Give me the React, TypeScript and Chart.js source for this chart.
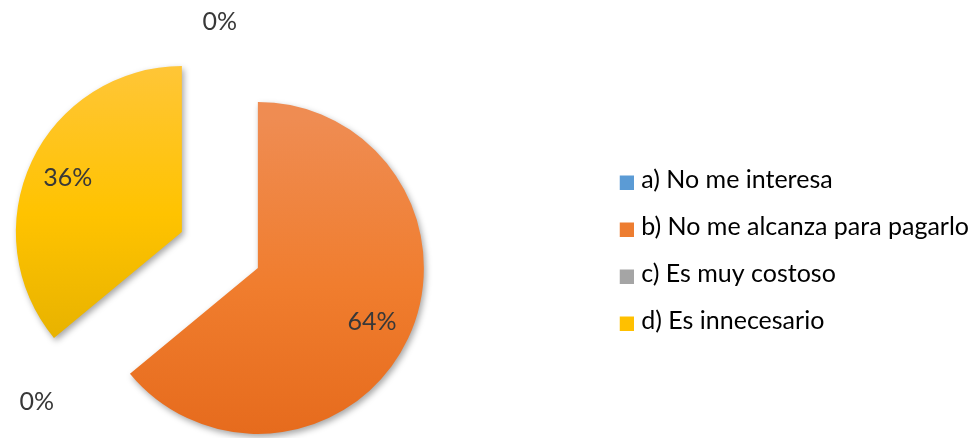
import React, { useEffect, useRef } from "react";
import { Chart, registerables } from "chart.js";

Chart.register(...registerables);

const categories = [
  "a) No me interesa",
  "b) No me alcanza para pagarlo",
  "c) Es muy costoso",
  "d) Es innecesario",
];
const values = [0, 64, 0, 36];
const legendColors = ["#5B9BD5", "#ED7D31", "#A5A5A5", "#FFC000"];
const gradientTop = ["#7FB0DE", "#EF8C52", "#B8B8B8", "#FFC63E"];
const gradientMid = ["#5B9BD5", "#F07D2E", "#A5A5A5", "#FFC300"];
const gradientBottom = ["#4A86BE", "#E5691B", "#909090", "#E0AD00"];
const sliceOffsets = [0, 168, 0, 168];

const RADIUS = 166;
const SHIFT = 153;
const EXTRA_RIGHT = 4;
const FONT = "Lato, 'Open Sans', sans-serif";

// Chart.js translates an exploded arc by offset/4 and enlarges it by offset/4 * fix
function sliceTranslation(offset: number) {
  return offset / 4;
}
function radiusGrowth(offset: number, circ: number) {
  const fix = 1 - Math.sin(Math.min(Math.PI, circ || 0));
  return (offset / 4) * fix;
}

function sliceGeom(chart: any, i: number) {
  const area = chart.chartArea;
  const cx = (area.left + area.right) / 2;
  const cy = (area.top + area.bottom) / 2;
  const total = values.reduce((a, b) => a + b, 0);
  let cum = 0;
  for (let k = 0; k < i; k++) cum += values[k];
  const start = -Math.PI / 2 + (2 * Math.PI * cum) / total;
  const circ = (2 * Math.PI * values[i]) / total;
  const mid = start + circ / 2;
  const t = sliceTranslation(sliceOffsets[i]);
  return { cx, cy, sx: cx + Math.cos(mid) * t, sy: cy + Math.sin(mid) * t, mid, circ };
}

// keep every exploded slice at the same visible radius and exact angles
const equalRadiusPlugin = {
  id: "equalRadius",
  afterDatasetUpdate(chart: any, args: any) {
    const meta = chart.getDatasetMeta(args.index);
    meta.data.forEach((el: any, i: number) => {
      const circ = el.circumference;
      if (!circ) return;
      const ro = radiusGrowth(sliceOffsets[i], circ);
      el.outerRadius = RADIUS - ro;
      const d = ro / (2 * Math.PI * RADIUS);
      el.startAngle -= d;
      el.endAngle += d;
    });
  },
};

const shadowPlugin = {
  id: "sliceShadow",
  beforeDatasetsDraw(chart: any) {
    const ctx = chart.ctx;
    ctx.save();
    ctx.shadowColor = "rgba(0,0,0,0.35)";
    ctx.shadowBlur = 6;
    ctx.shadowOffsetX = 2;
    ctx.shadowOffsetY = 3;
  },
  afterDatasetsDraw(chart: any) {
    chart.ctx.restore();
  },
};

const LABEL_SIZE = 25;
const labelPlugin = {
  id: "pctLabels",
  afterDraw(chart: any) {
    const ctx = chart.ctx;
    const meta = chart.getDatasetMeta(0);
    const total = values.reduce((a, b) => a + b, 0);
    ctx.save();
    ctx.font = `${LABEL_SIZE}px ${FONT}`;
    ctx.fillStyle = "#383838";
    ctx.textAlign = "center";
    ctx.textBaseline = "middle";
    meta.data.forEach((el: any, i: number) => {
      const { x, y, startAngle, endAngle } = el.getProps(["x", "y", "startAngle", "endAngle"], true);
      const mid = (startAngle + endAngle) / 2;
      const r = RADIUS;
      const pct = Math.round((values[i] / total) * 100) + "%";
      if (values[i] > 0) {
        const t = sliceTranslation(sliceOffsets[i]);
        const sx = x + Math.cos(mid) * t;
        const sy = y + Math.sin(mid) * t;
        ctx.fillText(pct, sx + Math.cos(mid) * r * 0.76, sy + Math.sin(mid) * r * 0.76);
      } else {
        const w = ctx.measureText(pct).width;
        const h = LABEL_SIZE * 0.8;
        const d =
          r * 1.313 + Math.abs(Math.cos(mid)) * (w / 2) + Math.abs(Math.sin(mid)) * (h / 2);
        ctx.fillText(pct, x + Math.cos(mid) * d, y + Math.sin(mid) * d);
      }
    });
    ctx.restore();
  },
};

function makeSwatch(color: string) {
  const c = document.createElement("canvas");
  c.width = 24;
  c.height = 20;
  const g = c.getContext("2d")!;
  g.fillStyle = color;
  g.fillRect(10, 6, 14, 14);
  return c;
}

export default function App() {
  const ref = useRef<HTMLCanvasElement | null>(null);
  useEffect(() => {
    if (!ref.current) return;
    const swatches = legendColors.map(makeSwatch);
    const chart = new Chart(ref.current, {
      type: "pie",
      data: {
        labels: categories,
        datasets: [
          {
            data: values,
            borderWidth: 0,
            offset: sliceOffsets,
            backgroundColor: (c: any) => {
              const chart = c.chart;
              const i = c.dataIndex;
              if (!chart.chartArea || i === undefined) return legendColors[i ?? 0];
              const g = sliceGeom(chart, i);
              const grad = chart.ctx.createLinearGradient(0, g.sy - RADIUS, 0, g.sy + RADIUS);
              grad.addColorStop(0, gradientTop[i]);
              grad.addColorStop(0.5, gradientMid[i]);
              grad.addColorStop(1, gradientBottom[i]);
              return grad;
            },
          },
        ],
      },
      options: {
        animation: false,
        responsive: true,
        maintainAspectRatio: false,
        radius: RADIUS,
        layout: { padding: { left: 0, top: 62, right: 0, bottom: 0 } },
        plugins: {
          tooltip: { enabled: false },
          legend: {
            position: "right",
            align: "center",
            labels: {
              usePointStyle: true,
              pointStyleWidth: 14,
              boxWidth: 14,
              boxHeight: 14,
              padding: 22,
              color: "#404040",
              font: { family: FONT, size: 25 },
              generateLabels: () =>
                categories.map((t, i) => ({
                  text: t,
                  fillStyle: legendColors[i],
                  strokeStyle: legendColors[i],
                  pointStyle: swatches[i],
                  lineWidth: 0,
                  hidden: false,
                  index: i,
                  datasetIndex: 0,
                })),
            },
          },
        },
      } as any,
      plugins: [equalRadiusPlugin, shadowPlugin, labelPlugin],
    });
    return () => chart.destroy();
  }, []);
  return (
    <div
      style={{
        position: "fixed",
        left: -SHIFT,
        top: 0,
        width: 975 + SHIFT + EXTRA_RIGHT,
        height: 438,
        background: "#fff",
      }}
    >
      <canvas ref={ref} />
    </div>
  );
}
